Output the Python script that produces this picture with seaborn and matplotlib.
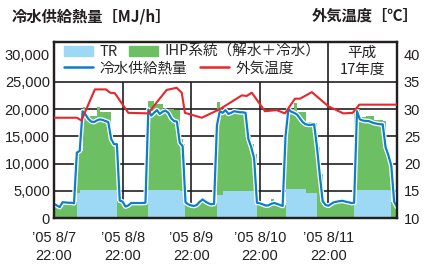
import matplotlib
matplotlib.use('Agg')
import numpy as np
import pandas as pd
import matplotlib.pyplot as plt
import matplotlib.patheffects as pe
from matplotlib.patches import Patch
from matplotlib.lines import Line2D
import seaborn as sns

# 時間軸: '05 8/7 22:00 からの経過時間 [h]
hours = list(range(121))
tick_hours = [0, 24, 48, 72, 96]
tick_labels = ['’05 8/7\n22:00', '’05 8/8\n22:00', '’05 8/9\n22:00',
               '’05 8/10\n22:00', '’05 8/11\n22:00']

# 冷水供給熱量 [MJ/h]
supply = [2600, 2300, 2000, 2900, 2850, 2800, 2800, 2700, 12000, 12300, 19600, 19000,
          18200, 17700, 17600, 17900, 18100, 18000, 17800, 17600, 14500, 13550, 13550, 3200,
          3000, 2100, 2300, 2750, 2750, 2750, 2750, 2750, 2800, 19900, 18800, 19300,
          19800, 19100, 19500, 19700, 19300, 18300, 17800, 17700, 13800, 13200, 2900, 2500,
          2300, 2200, 2400, 3000, 3400, 3000, 2700, 2500, 2600, 17000, 19600, 19300,
          19800, 19100, 19300, 19600, 19500, 19400, 19400, 19300, 14500, 13000, 11000, 2800,
          2700, 2500, 2300, 2300, 2600, 2750, 2600, 2400, 2200, 15000, 20000, 19500,
          19300, 19000, 18300, 17600, 17200, 17100, 17100, 17200, 13000, 7800, 3100, 2400,
          2250, 2600, 2900, 3000, 3100, 3150, 3000, 2900, 2750, 2800, 19600, 18100,
          17900, 17800, 17800, 17600, 17400, 17300, 17200, 17200, 13000, 11500, 9600, 3000,
          2000]

# TR [MJ/h]
tr = [0, 0, 0, 0, 0, 0, 0, 0, 4500, 5100, 5100, 5100,
      5100, 5100, 5100, 5100, 5100, 5100, 5100, 5100, 5100, 5100, 0, 0,
      0, 0, 0, 0, 0, 0, 0, 0, 0, 5100, 5100, 5100,
      5100, 5100, 5100, 5100, 5100, 5100, 5100, 5100, 4900, 4900, 0, 0,
      0, 0, 0, 0, 0, 0, 0, 0, 0, 4300, 4300, 5000,
      5000, 5000, 5000, 5000, 5000, 5000, 5000, 5000, 5000, 5000, 4300, 0,
      0, 0, 0, 0, 0, 0, 0, 0, 0, 5300, 5300, 5300,
      5300, 5300, 5300, 5300, 4500, 4500, 4500, 4500, 0, 0, 0, 0,
      0, 0, 0, 0, 0, 0, 0, 0, 0, 4300, 5100, 5100,
      5100, 5100, 5100, 5100, 5100, 5100, 5100, 5100, 5100, 5100, 0, 0,
      0]

# TR + IHP系統 の積み上げ上端 [MJ/h]
stack_top = [2500, 2000, 2000, 2900, 2900, 2900, 2900, 2900, 12300, 12300, 20300, 18700,
             18700, 18700, 18700, 20300, 19400, 19400, 19400, 19400, 14500, 14000, 3100, 3000,
             3000, 2000, 2200, 2900, 2900, 2900, 2900, 2900, 2900, 21500, 21500, 21000,
             21000, 21000, 20000, 20000, 20000, 20000, 19800, 19800, 14500, 13500, 2900, 2500,
             2300, 2200, 2600, 3200, 3600, 3200, 2800, 2600, 2700, 21200, 19900, 19600,
             19900, 19600, 19700, 19800, 19700, 19700, 19600, 19500, 15000, 13500, 11800, 2800,
             2700, 2500, 2400, 2500, 3400, 2900, 2700, 2500, 2300, 16000, 20000, 20000,
             21100, 19400, 19400, 19400, 17600, 17600, 17600, 17500, 13000, 8000, 3200, 2500,
             2300, 2700, 3000, 3100, 3200, 3200, 3000, 2900, 2800, 20000, 20000, 18450,
             18450, 18750, 18750, 18750, 18000, 18000, 18000, 17800, 12500, 10500, 3000, 2500,
             2000]

# 外気温度 [℃]
temp_hours = [0, 8, 9.6, 14.3, 18.2, 19.6, 21.3, 26, 33, 35.9, 39.4, 42.9, 44.7, 45.8,
              51.7, 58.1, 65.7, 67.4, 69.2, 73.8, 77.9, 80.8, 84.3, 86.1, 90.2, 96,
              101.2, 104.5, 106.8, 120]
temp_vals = [28.4, 28.4, 27.9, 33.6, 33.6, 33.0, 32.9, 29.3, 29.2, 31.2, 33.5, 33.9, 33.0, 29.3,
             28.4, 30.0, 32.5, 32.4, 33.0, 29.6, 29.8, 29.2, 31.9, 31.9, 33.1, 30.5,
             29.2, 29.3, 30.8, 30.8]

df = pd.DataFrame({'hour': hours, 'supply': supply, 'tr': tr, 'top': stack_top})
df['ihp'] = df['top'] - df['tr']
tdf = pd.DataFrame({'hour': temp_hours, 'temp': temp_vals})

sns.set_theme(style='white')
plt.rcParams['font.family'] = ['Liberation Sans Narrow', 'Liberation Sans', 'Noto Sans CJK JP']
cjk = ['Noto Sans CJK JP', 'DejaVu Sans']

c_tr = '#9dd9f5'
c_ihp = '#6cbf62'
c_blue = '#0b80c9'
c_red = '#e8262b'
c_k = '#231f20'

fig = plt.figure(figsize=(4.33, 2.67), dpi=100)
ax = fig.add_axes([54 / 433, 1 - 218 / 267, 343 / 433, 176 / 267])
ax.set_xlim(0, 120)
ax.set_ylim(0, 32300)

# グリッド
for y in [5000, 10000, 15000, 20000, 25000]:
    ax.axhline(y, color=c_k, lw=1.2, zorder=0.5)
ax.vlines([24, 48, 72], 0, 25000, color=c_k, lw=1.2, zorder=0.5)
ax.vlines(96, 0, 32300, color=c_k, lw=1.2, zorder=0.5)

# 積み上げ面
ax.fill_between(df['hour'], 0, df['tr'], step='post', color=c_tr, lw=0, zorder=1)
ax.fill_between(df['hour'], df['tr'], df['tr'] + df['ihp'], step='post', color=c_ihp, lw=0, zorder=1)

# 冷水供給熱量
sns.lineplot(data=df, x='hour', y='supply', ax=ax, color=c_blue, lw=1.6, legend=False, zorder=3,
             path_effects=[pe.Stroke(linewidth=3.4, foreground='white'), pe.Normal()])

ax.set_yticks(range(0, 30001, 5000))
ax.set_yticklabels([f'{v:,}' for v in range(0, 30001, 5000)], fontsize=10.5, color=c_k)
ax.set_xticks(tick_hours)
ax.set_xticklabels(tick_labels, fontsize=10.5, color=c_k, linespacing=1.45)
ax.tick_params(axis='both', length=0)
ax.tick_params(axis='y', pad=3)
ax.tick_params(axis='x', pad=9)
ax.set_xlabel('')
ax.set_ylabel('')

# 外気温度
ax2 = ax.twinx()
ax2.set_ylim(10, 42.3)
sns.lineplot(data=tdf, x='hour', y='temp', ax=ax2, color=c_red, lw=1.5, legend=False, zorder=4)
ax2.set_yticks(range(10, 41, 5))
ax2.set_yticklabels([str(v) for v in range(10, 41, 5)], fontsize=10.5, color=c_k)
ax2.tick_params(axis='y', length=0, pad=5)
ax2.set_ylabel('')
ax2.set_xlim(0, 120)

for a in (ax, ax2):
    for s in a.spines.values():
        s.set_color(c_k)
        s.set_linewidth(1.6)

# 凡例
leg_kw = dict(loc='upper left', frameon=False, prop={'family': cjk, 'size': 10.5},
              borderpad=0, borderaxespad=0, handletextpad=0.4, ncol=2)
leg1 = ax2.legend(handles=[Patch(color=c_tr, label='TR'),
                           Patch(color=c_ihp, label='IHP系統（解水＋冷水）')],
                  bbox_to_anchor=(0.03, 0.985), handlelength=2.0, handleheight=0.65,
                  columnspacing=0.8, **leg_kw)
ax2.add_artist(leg1)
ax2.legend(handles=[Line2D([], [], color=c_blue, lw=1.8, label='冷水供給熱量'),
                    Line2D([], [], color=c_red, lw=1.8, label='外気温度')],
           bbox_to_anchor=(0.03, 0.89), handlelength=2.0, columnspacing=0.9, **leg_kw)

ax2.text(0.898, 0.89, '平成\n17年度', transform=ax2.transAxes, ha='center', va='center',
         fontsize=10.5, family=cjk, color=c_k, linespacing=1.25)

fig.text(12 / 433, 1 - 16 / 267, '冷水供給熱量［MJ/h］', ha='left', va='center',
         fontsize=11, fontweight='bold', family=cjk, color=c_k)
fig.text(419 / 433, 1 - 16 / 267, '外気温度［℃］', ha='right', va='center',
         fontsize=11, fontweight='bold', family=cjk, color=c_k)

fig.savefig('out.png', dpi=100, facecolor='white')
